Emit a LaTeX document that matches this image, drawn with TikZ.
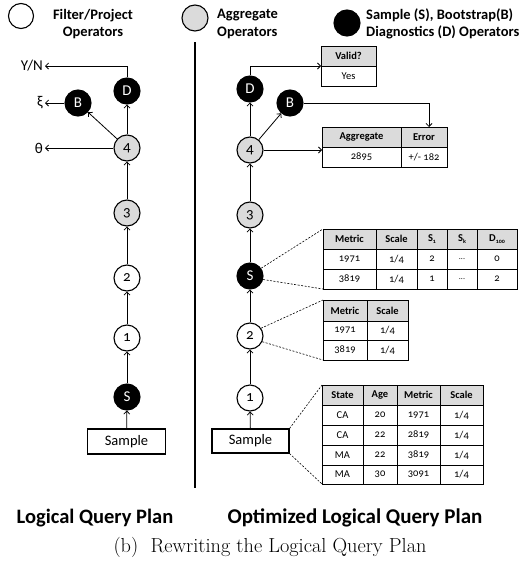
\documentclass[tikz,border=0pt]{standalone}
\usepackage{fontspec}
\newfontfamily\calfont[Numbers=OldStyle]{Carlito}
\usetikzlibrary{arrows.meta}
\newcommand\fs[1]{\fontsize{#1}{#1}\selectfont}
\newcommand\tc[7][cell]{\node[#1, minimum width={#5pt-#3pt}, minimum height={#6pt-#4pt}] (#2) at ({(#3+#5)/2},{(#4+#6)/2}) {#7};}
\tikzset{
 cell/.style={draw, line width=0.7pt, inner sep=0pt, outer sep=0pt, font=\calfont\fs{10.5}},
 hcell/.style={cell, fill=black!14, font=\calfont\bfseries\fs{10.5}},
 op/.style={circle, draw, line width=1.1pt, minimum size=26pt, inner sep=0pt, font=\calfont\fs{15}},
 filt/.style={op, fill=white},
 aggop/.style={op, fill=black!14},
 sampop/.style={op, fill=black, text=white},
 arr/.style={-{Straight Barb[length=3pt,width=6pt]}, line width=0.8pt},
 link/.style={line width=0.6pt, dash pattern=on 2pt off 1.5pt},
 srcbox/.style={draw, line width=1.1pt, minimum width=78pt, minimum height=25pt, inner sep=0pt, font=\calfont\fs{14.5}},
 legtxt/.style={font=\calfont\bfseries\fs{14.5}, inner sep=0pt},
 outlab/.style={font=\calfont\fs{15}, anchor=east, inner sep=2pt},
}
\begin{document}
\begin{tikzpicture}[x=1pt,y=-1pt]
\useasboundingbox (0,0) rectangle (531,570);
% legend
\node[filt, minimum size=25pt] (lg1) at (21,16) {};
\node[legtxt, align=center] (lt1) at (93,24) {Filter/Project\\[3pt]Operators};
\node[aggop, minimum size=26pt] (lg2) at (195,18) {};
\node[legtxt, align=left, anchor=west] (lt2) at (217,24) {Aggregate\\[3pt]Operators};
\node[sampop, minimum size=26pt] (lg3) at (347,23) {};
\node[legtxt, align=left, anchor=west] (lt3) at (366,24) {Sample (S), Bootstrap(B)\\[3pt]Diagnostics (D) Operators};
% divider
\draw[line width=1.6pt] (195,42) coordinate (dv1) -- (195,488) coordinate (dv2);
% left plan
\node[sampop] (lD) at (127,91) {D};
\node[sampop] (lB) at (78,103) {B};
\node[aggop] (l4) at (127,148) {4};
\node[aggop] (l3) at (127,213) {3};
\node[filt] (l2) at (127,278) {2};
\node[filt] (l1) at (127,338) {1};
\node[sampop] (lS) at (127,397) {S};
\node[srcbox] (lsmp) at (126.5,441.5) {Sample};
\node[outlab] (yn) at (45,66) {Y/N};
\node[outlab] (xi) at (45,103) {ξ};
\node[outlab] (th) at (45,148) {θ};
\draw[arr] (lsmp) -- (lS);
\draw[arr] (lS) -- (l1);
\draw[arr] (l1) -- (l2);
\draw[arr] (l2) -- (l3);
\draw[arr] (l3) -- (l4);
\draw[arr] (l4) -- (lD);
\draw[arr] (l4) -- (lB);
\draw[arr] (lD.north) |- (yn.east);
\draw[arr] (lB) -- (xi);
\draw[arr] (l4) -- (th);
% right plan
\node[sampop] (rD) at (250,89) {D};
\node[sampop] (rB) at (290,103) {B};
\node[aggop] (r4) at (250,150) {4};
\node[aggop] (r3) at (250,215) {3};
\node[sampop] (rS) at (250,276) {S};
\node[filt] (r2) at (250,336) {2};
\node[filt] (r1) at (250,398) {1};
\node[srcbox, minimum width=77pt, minimum height=24pt] (rsmp) at (250.5,441) {Sample};
\draw[arr] (rsmp) -- (r1);
\draw[arr] (r1) -- (r2);
\draw[arr] (r2) -- (rS);
\draw[arr] (rS) -- (r3);
\draw[arr] (r3) -- (r4);
\draw[arr] (r4) -- (rD);
\draw[arr] (r4) -- (rB);
% valid table
\tc[hcell]{vh}{321}{46}{376}{66}{Valid?}
\tc{vy}{321}{66}{376}{86}{Yes}
% aggregate table
\tc[hcell]{ah1}{322}{127}{401}{147}{Aggregate}
\tc[hcell]{ah2}{401}{127}{447}{147}{Error}
\tc{ab1}{322}{147}{401}{167}{2895}
\tc{ab2}{401}{147}{447}{167}{+/- 182}
\draw[arr] (rD.north) |- (vh.south west);
\draw[arr] (rB.east) -| ([xshift=5pt]ah2.north);
\draw[arr] (r4.east) -- (r4.east -| ah1.west);
% S table
\tc[hcell]{s01}{323}{229}{376}{249}{Metric}
\tc[hcell]{s02}{376}{229}{417}{249}{Scale}
\tc[hcell]{s03}{417}{229}{447}{249}{S\raisebox{-2pt}{\fs{6}1}}
\tc[hcell]{s04}{447}{229}{477}{249}{S\raisebox{-2pt}{\fs{6}k}}
\tc[hcell]{s05}{477}{229}{517}{249}{D\raisebox{-2pt}{\fs{6}100}}
\tc{s11}{323}{249}{376}{269}{1971}
\tc{s12}{376}{249}{417}{269}{1/4}
\tc{s13}{417}{249}{447}{269}{2}
\tc{s14}{447}{249}{477}{269}{\fs{8}...}
\tc{s15}{477}{249}{517}{269}{0}
\tc{s21}{323}{269}{376}{289}{3819}
\tc{s22}{376}{269}{417}{289}{1/4}
\tc{s23}{417}{269}{447}{289}{1}
\tc{s24}{447}{269}{477}{289}{\fs{8}...}
\tc{s25}{477}{269}{517}{289}{2}
\draw[link] (rS.35) -- (s01.north west);
\draw[link] (rS.-15) -- (s21.south west);
% table after 2
\tc[hcell]{t01}{323}{300}{367}{321}{Metric}
\tc[hcell]{t02}{367}{300}{408}{321}{Scale}
\tc{t11}{323}{321}{367}{340}{1971}
\tc{t12}{367}{321}{408}{340}{1/4}
\tc{t21}{323}{340}{367}{360}{3819}
\tc{t22}{367}{340}{408}{360}{1/4}
\draw[link] (r2.35) -- (t01.north west);
\draw[link] (r2.-25) -- (t21.south west);
% sample table
\tc[hcell]{u01}{322}{385}{363}{405}{State}
\tc[hcell]{u02}{363}{385}{397}{405}{Age}
\tc[hcell]{u03}{397}{385}{440}{405}{Metric}
\tc[hcell]{u04}{440}{385}{483}{405}{Scale}
\tc{u11}{322}{405}{363}{425}{CA}
\tc{u12}{363}{405}{397}{425}{20}
\tc{u13}{397}{405}{440}{425}{1971}
\tc{u14}{440}{405}{483}{425}{1/4}
\tc{u21}{322}{425}{363}{445}{CA}
\tc{u22}{363}{425}{397}{445}{22}
\tc{u23}{397}{425}{440}{445}{2819}
\tc{u24}{440}{425}{483}{445}{1/4}
\tc{u31}{322}{445}{363}{465}{MA}
\tc{u32}{363}{445}{397}{465}{22}
\tc{u33}{397}{445}{440}{465}{3819}
\tc{u34}{440}{445}{483}{465}{1/4}
\tc{u41}{322}{465}{363}{484}{MA}
\tc{u42}{363}{465}{397}{484}{30}
\tc{u43}{397}{465}{440}{484}{3091}
\tc{u44}{440}{465}{483}{484}{1/4}
\draw[link] (rsmp.north east) -- (u01.north west);
\draw[link] (rsmp.south east) -- (u41.south west);
% captions
\node[font=\calfont\bfseries\fs{20.5}] (cap1) at (95,518) {Logical Query Plan};
\node[font=\calfont\bfseries\fs{21}] (cap2) at (355,518) {Optimized Logical Query Plan};
\node[font=\fs{20.3}] (cap3) at (270,547) {(b)\ \ Rewriting the Logical Query Plan};
\end{tikzpicture}
\end{document}
